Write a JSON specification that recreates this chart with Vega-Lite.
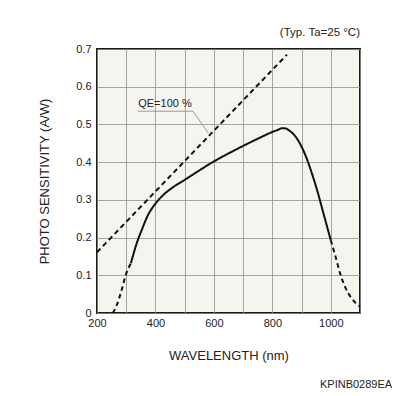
{
  "$schema": "https://vega.github.io/schema/vega-lite/v6.json",
  "width": 263,
  "height": 264,
  "autosize": "none",
  "padding": {"left": 97, "top": 49, "right": 36, "bottom": 83},
  "background": "white",
  "config": {
    "font": "Liberation Sans",
    "view": {"fill": "#f6f4ee", "stroke": "#1a1a1a", "strokeWidth": 2},
    "axis": {
      "grid": true,
      "gridColor": "#8f8f8f",
      "gridWidth": 0.8,
      "ticks": false,
      "domain": false,
      "labelFont": "Liberation Sans",
      "labelFontSize": 11,
      "labelColor": "#222",
      "labelFlush": false,
      "labelOverlap": false,
      "titleFont": "Liberation Sans",
      "titleFontSize": 13,
      "titleFontWeight": "normal",
      "titleColor": "#222"
    }
  },
  "title": {
    "text": "(Typ. Ta=25 °C)",
    "anchor": "end",
    "frame": "group",
    "fontSize": 11.5,
    "fontWeight": "normal",
    "color": "#222",
    "offset": 5
  },
  "datasets": {
    "qe": [
      {"wl": 200, "s": 0.161},
      {"wl": 850, "s": 0.685}
    ],
    "curve": [
      {"part": "a", "kind": "dashed", "wl": 254, "s": 0.0},
      {"part": "a", "kind": "dashed", "wl": 267, "s": 0.02},
      {"part": "a", "kind": "dashed", "wl": 284, "s": 0.06},
      {"part": "a", "kind": "dashed", "wl": 298, "s": 0.1},
      {"part": "a", "kind": "dashed", "wl": 316, "s": 0.132},
      {"part": "b", "kind": "solid", "wl": 316, "s": 0.132},
      {"part": "b", "kind": "solid", "wl": 336, "s": 0.185},
      {"part": "b", "kind": "solid", "wl": 353, "s": 0.22},
      {"part": "b", "kind": "solid", "wl": 376, "s": 0.262},
      {"part": "b", "kind": "solid", "wl": 400, "s": 0.29},
      {"part": "b", "kind": "solid", "wl": 427, "s": 0.313},
      {"part": "b", "kind": "solid", "wl": 461, "s": 0.334},
      {"part": "b", "kind": "solid", "wl": 500, "s": 0.353},
      {"part": "b", "kind": "solid", "wl": 550, "s": 0.378},
      {"part": "b", "kind": "solid", "wl": 600, "s": 0.402},
      {"part": "b", "kind": "solid", "wl": 650, "s": 0.423},
      {"part": "b", "kind": "solid", "wl": 700, "s": 0.443},
      {"part": "b", "kind": "solid", "wl": 750, "s": 0.462},
      {"part": "b", "kind": "solid", "wl": 800, "s": 0.48},
      {"part": "b", "kind": "solid", "wl": 820, "s": 0.486},
      {"part": "b", "kind": "solid", "wl": 832, "s": 0.49},
      {"part": "b", "kind": "solid", "wl": 843, "s": 0.49},
      {"part": "b", "kind": "solid", "wl": 852, "s": 0.487},
      {"part": "b", "kind": "solid", "wl": 861, "s": 0.482},
      {"part": "b", "kind": "solid", "wl": 883, "s": 0.464},
      {"part": "b", "kind": "solid", "wl": 900, "s": 0.441},
      {"part": "b", "kind": "solid", "wl": 917, "s": 0.411},
      {"part": "b", "kind": "solid", "wl": 935, "s": 0.371},
      {"part": "b", "kind": "solid", "wl": 952, "s": 0.329},
      {"part": "b", "kind": "solid", "wl": 975, "s": 0.264},
      {"part": "b", "kind": "solid", "wl": 1000, "s": 0.193},
      {"part": "c", "kind": "dashed", "wl": 1000, "s": 0.193},
      {"part": "c", "kind": "dashed", "wl": 1015, "s": 0.153},
      {"part": "c", "kind": "dashed", "wl": 1032, "s": 0.105},
      {"part": "c", "kind": "dashed", "wl": 1049, "s": 0.069},
      {"part": "c", "kind": "dashed", "wl": 1072, "s": 0.038},
      {"part": "c", "kind": "dashed", "wl": 1095, "s": 0.02},
      {"part": "c", "kind": "dashed", "wl": 1100, "s": 0.017}
    ],
    "leader": [
      {"wl": 340, "s": 0.535},
      {"wl": 528.5, "s": 0.535},
      {"wl": 581, "s": 0.477}
    ],
    "labels": [
      {"wl": 341, "s": 0.545, "text": "QE=100 %"}
    ],
    "code": [
      {"wl": 1210, "s": -0.192, "text": "KPINB0289EA"}
    ]
  },
  "encoding": {
    "x": {
      "field": "wl",
      "type": "quantitative",
      "scale": {"domain": [200, 1100], "nice": false, "zero": false},
      "axis": {
        "title": "WAVELENGTH (nm)",
        "values": [200, 300, 400, 500, 600, 700, 800, 900, 1000, 1100],
        "format": "d",
        "labelExpr": "(datum.value % 200 == 0 && datum.value <= 1000) ? datum.label : ''",
        "labelPadding": 4,
        "titlePadding": 21
      }
    },
    "y": {
      "field": "s",
      "type": "quantitative",
      "scale": {"domain": [0, 0.7], "nice": false},
      "axis": {
        "title": "PHOTO SENSITIVITY (A/W)",
        "values": [0, 0.1, 0.2, 0.3, 0.4, 0.5, 0.6, 0.7],
        "format": ".1~f",
        "labelPadding": 6,
        "titlePadding": 24
      }
    }
  },
  "layer": [
    {
      "data": {"name": "qe"},
      "mark": {"type": "line", "color": "#111", "strokeWidth": 2, "strokeDash": [5, 3.5]},
      "encoding": {}
    },
    {
      "data": {"name": "leader"},
      "mark": {"type": "line", "color": "#777", "strokeWidth": 0.7},
      "encoding": {}
    },
    {
      "data": {"name": "curve"},
      "mark": {"type": "line", "color": "#111", "strokeWidth": 2, "interpolate": "monotone"},
      "encoding": {
        "detail": {"field": "part"},
        "strokeDash": {
          "field": "kind",
          "type": "nominal",
          "scale": {"domain": ["solid", "dashed"], "range": [[1, 0], [4.5, 3.5]]},
          "legend": null
        }
      }
    },
    {
      "data": {"name": "labels"},
      "mark": {"type": "text", "align": "left", "baseline": "alphabetic", "fontSize": 11, "color": "#222", "font": "Liberation Sans"},
      "encoding": {"text": {"field": "text"}}
    },
    {
      "data": {"name": "code"},
      "mark": {"type": "text", "align": "right", "baseline": "middle", "fontSize": 11, "color": "#222", "font": "Liberation Sans", "clip": false},
      "encoding": {"text": {"field": "text"}}
    }
  ]
}
